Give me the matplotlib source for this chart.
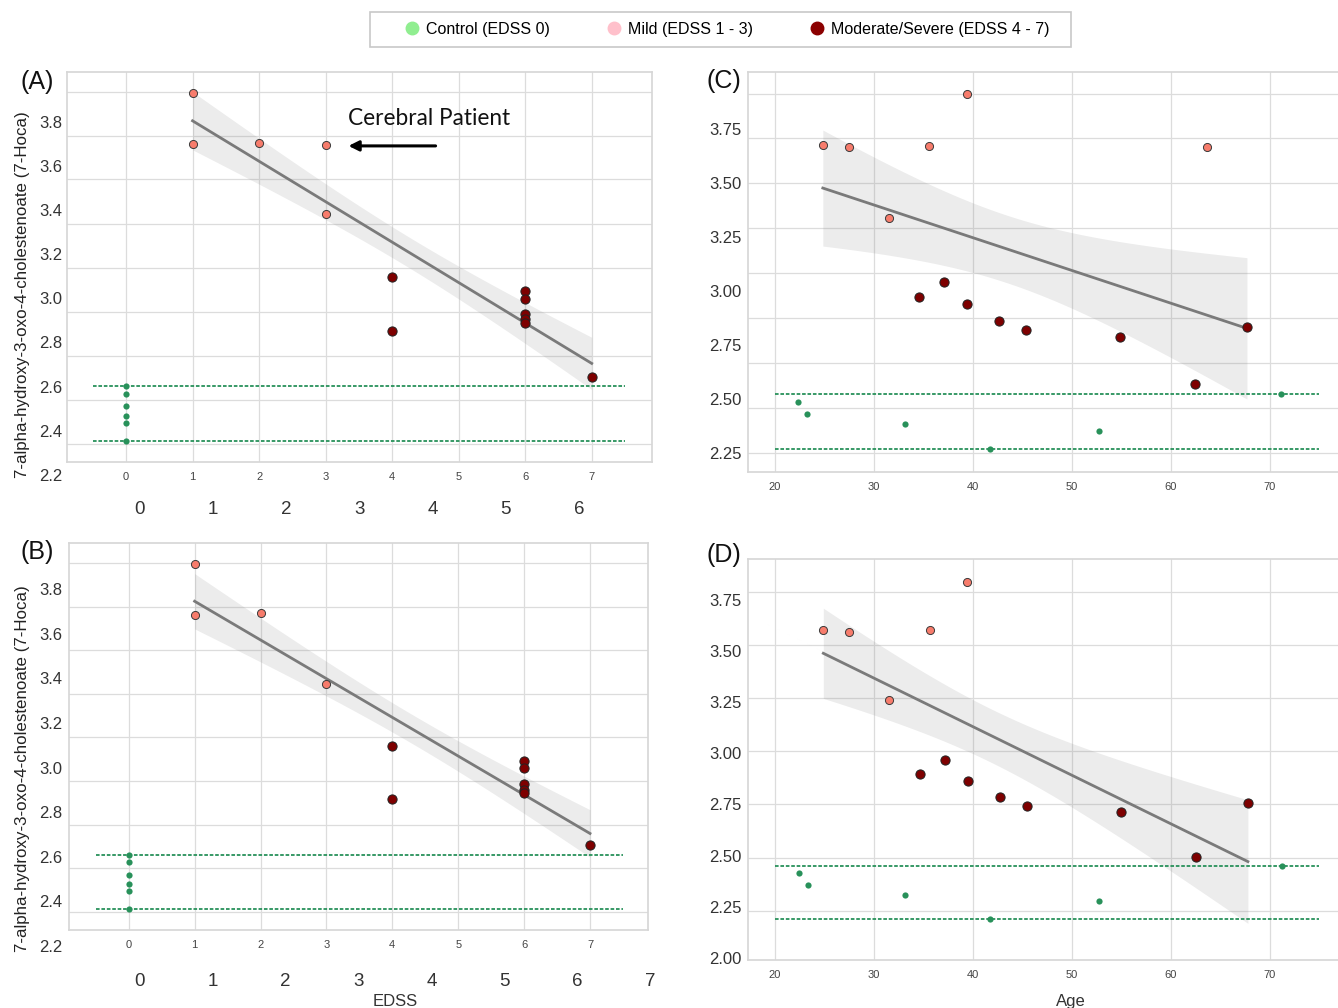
import numpy as np
import matplotlib.pyplot as plt
from matplotlib.lines import Line2D
from matplotlib.patches import Rectangle

plt.rcParams['font.family'] = ['Liberation Sans', 'DejaVu Sans']

# ---------------- data ----------------
# panel A : EDSS vs 7-Hoca, all patients
edss_ctrl_a = [0, 0, 0, 0, 0, 0]
hoca_ctrl_a = [2.603, 2.567, 2.512, 2.467, 2.437, 2.355]
edss_mild_a = [1, 1, 2, 3, 3]
hoca_mild_a = [3.931, 3.699, 3.705, 3.694, 3.382]
edss_mod_a = [4, 4, 6, 6, 6, 6, 6, 7]
hoca_mod_a = [3.098, 2.853, 3.033, 2.997, 2.928, 2.905, 2.887, 2.645]

# panel B : EDSS vs 7-Hoca, cerebral patient removed
edss_ctrl_b = [0, 0, 0, 0, 0, 0]
hoca_ctrl_b = [2.607, 2.575, 2.519, 2.476, 2.446, 2.365]
edss_mild_b = [1, 1, 2, 3]
hoca_mild_b = [3.914, 3.686, 3.692, 3.375]
edss_mod_b = [4, 4, 6, 6, 6, 6, 6, 7]
hoca_mod_b = [3.096, 2.857, 3.031, 2.996, 2.926, 2.899, 2.884, 2.652]

# panel C : Age vs 7-Hoca, all patients
age_ctrl_c = [22.3, 23.3, 33.2, 41.7, 52.8, 71.1]
hoca_ctrl_c = [2.488, 2.430, 2.384, 2.267, 2.352, 2.522]
age_mild_c = [24.85, 27.5, 31.5, 35.6, 39.4, 63.7]
hoca_mild_c = [3.676, 3.668, 3.338, 3.675, 3.914, 3.667]
age_mod_c = [34.6, 37.1, 39.4, 42.7, 45.4, 54.9, 62.5, 67.7]
hoca_mod_c = [2.975, 3.044, 2.939, 2.862, 2.818, 2.786, 2.570, 2.832]

# panel D : Age vs 7-Hoca, cerebral patient removed
age_ctrl_d = [22.4, 23.4, 33.2, 41.7, 52.8, 71.2]
hoca_ctrl_d = [2.414, 2.355, 2.306, 2.192, 2.277, 2.450]
age_mild_d = [24.9, 27.5, 31.5, 35.65, 39.4]
hoca_mild_d = [3.602, 3.594, 3.262, 3.600, 3.838]
age_mod_d = [34.7, 37.2, 39.5, 42.75, 45.5, 55.0, 62.55, 67.8]
hoca_mod_d = [2.899, 2.969, 2.863, 2.787, 2.743, 2.712, 2.495, 2.756]

legend_labels = ['Control (EDSS 0)', 'Mild (EDSS 1 - 3)', 'Moderate/Severe (EDSS 4 - 7)']
ylabel = '7-alpha-hydroxy-3-oxo-4-cholestenoate (7-Hoca)'

# ---------------- styling ----------------
c_ctrl = '#28915a'
c_mild = '#f77c6c'
c_mod = '#7e0000'
c_grid = '#dcdcdc'
ci_scale = 1.45   # width of the shaded band, in standard errors

W, H = 1338, 1008
fig = plt.figure(figsize=(W / 100, H / 100), dpi=100)


def rect(x0, y0, x1, y1):
    return [x0 / W, 1 - y1 / H, (x1 - x0) / W, (y1 - y0) / H]


def reg_band(x, y, xs):
    x = np.asarray(x, float)
    y = np.asarray(y, float)
    b, a = np.polyfit(x, y, 1)
    res = y - (a + b * x)
    s = np.sqrt(np.sum(res ** 2) / (len(x) - 2))
    se = s * np.sqrt(1 / len(x) + (xs - x.mean()) ** 2 / np.sum((x - x.mean()) ** 2))
    fit = a + b * xs
    return fit, fit - ci_scale * se, fit + ci_scale * se


def data_panel(r, xlim, ylim, xticks, ygrid, ctrl, mild, mod, span, xpad):
    ax = fig.add_axes(rect(*r))
    ax.set_xlim(*xlim)
    ax.set_ylim(*ylim)
    ax.set_xticks(xticks)
    ax.set_yticks(ygrid)
    ax.set_yticklabels([])
    ax.tick_params(axis='x', length=0, pad=xpad, labelsize=8, labelcolor='#444444')
    ax.tick_params(axis='y', length=0)
    ax.grid(True, color=c_grid, lw=0.9)
    ax.set_axisbelow(True)
    for sp in ax.spines.values():
        sp.set_color('#d6d6d6')
        sp.set_linewidth(1.2)
    # regression on patients only
    px = list(mild[0]) + list(mod[0])
    py = list(mild[1]) + list(mod[1])
    xs = np.linspace(min(px), max(px), 100)
    fit, lo, hi = reg_band(px, py, xs)
    ax.fill_between(xs, lo, hi, color='#808080', alpha=0.15, lw=0, zorder=2)
    ax.plot(xs, fit, color='#7a7a7a', lw=2, zorder=3)
    # control range lines
    ax.hlines([min(ctrl[1]), max(ctrl[1])], span[0], span[1], colors=c_ctrl,
              linestyles=(0, (2, 1)), lw=1.3, zorder=3)
    ax.scatter(ctrl[0], ctrl[1], s=20, color=c_ctrl, lw=0, zorder=4)
    ax.scatter(mild[0], mild[1], s=34, color=c_mild, edgecolor='#3a3a3a', lw=0.7, zorder=4)
    ax.scatter(mod[0], mod[1], s=44, color=c_mod, edgecolor='#222222', lw=0.7, zorder=4)
    return ax


def label_overlay(r, xlim, ylim, xticks, yticks, xpad, ypad):
    ov = fig.add_axes(rect(*r))
    ov.set_facecolor('none')
    for sp in ov.spines.values():
        sp.set_visible(False)
    ov.set_xlim(*xlim)
    ov.set_ylim(*ylim)
    ov.set_xticks(xticks)
    ov.set_yticks(yticks)
    ov.set_yticklabels([f'{v:.1f}' for v in yticks])
    ov.tick_params(axis='x', length=0, pad=xpad, labelsize=13.5, labelcolor='#333333')
    ov.tick_params(axis='y', length=0, pad=ypad, labelsize=12, labelcolor='#333333')
    return ov


# ---- panel A ----
ax_a = data_panel((67, 71.7, 652, 461.7), (-0.887, 7.906), (2.260, 4.026), range(8),
                  [2.340, 2.540, 2.739, 2.938, 3.137, 3.338, 3.539, 3.735, 3.933],
                  (edss_ctrl_a, hoca_ctrl_a), (edss_mild_a, hoca_mild_a),
                  (edss_mod_a, hoca_mod_a), (-0.5, 7.5), 7.2)
label_overlay((67, 71.7, 652, 490), (-0.989, 7.0), (2.132, 4.026), range(7),
              np.arange(2.2, 3.81, 0.2), 8.1, 3.4)
ax_a.text(3.33, 3.812, 'Cerebral Patient', family=['Lato', 'DejaVu Sans'],
          fontsize=16.3, va='center', ha='left', color='#111111')
ax_a.annotate('', xy=(3.344, 3.690), xytext=(4.653, 3.690),
              arrowprops=dict(arrowstyle='-|>,head_length=0.6,head_width=0.3',
                              color='black', lw=2.2, shrinkA=0, shrinkB=0))

# ---- panel B ----
data_panel((69.4, 542.7, 648, 930), (-0.900, 7.880), (2.271, 4.009), range(8),
           [2.350, 2.548, 2.744, 2.940, 3.135, 3.331, 3.527, 3.721, 3.916],
           (edss_ctrl_b, hoca_ctrl_b), (edss_mild_b, hoca_mild_b),
           (edss_mod_b, hoca_mod_b), (-0.5, 7.5), 7.2)
label_overlay((69.4, 542.7, 660, 960), (-0.963, 7.127), (2.136, 4.009), range(8),
              np.arange(2.2, 3.81, 0.2), 9.1, 5.0)

# ---- panel C ----
ax_c = data_panel((747.8, 71.7, 1338, 472.3), (17.27, 76.9), (2.160, 4.018),
                  range(20, 71, 10), np.linspace(2.25, 3.9167, 9),
                  (age_ctrl_c, hoca_ctrl_c), (age_mild_c, hoca_mild_c),
                  (age_mod_c, hoca_mod_c), (20, 75), 6.8)

# ---- panel D ----
ax_d = data_panel((747.8, 559.3, 1338, 960), (17.27, 76.9), (1.990, 3.947),
                  range(20, 71, 10), [2.230, 2.490, 2.751, 3.010, 3.268, 3.529, 3.789],
                  (age_ctrl_d, hoca_ctrl_d), (age_mild_d, hoca_mild_d),
                  (age_mod_d, hoca_mod_d), (20, 75), 7.2)

# y labels for the age panels
for ax, ticks in [(ax_c, np.arange(2.25, 3.76, 0.25)), (ax_d, np.arange(2.0, 3.76, 0.25))]:
    ax.spines['right'].set_visible(False)
    ov = ax.twinx()
    ov.yaxis.tick_left()
    ov.set_ylim(ax.get_ylim())
    ov.set_yticks(ticks)
    ov.set_yticklabels([f'{v:.2f}' for v in ticks])
    ov.tick_params(axis='y', length=0, pad=4.6, labelsize=12, labelcolor='#333333')
    for sp in ov.spines.values():
        sp.set_visible(False)

# panel letters, axis labels
for txt, x, y in [('(A)', 37, 82), ('(B)', 37, 552), ('(C)', 724, 81), ('(D)', 724, 555)]:
    fig.text(x / W, 1 - y / H, txt, fontsize=18, ha='center', va='center', color='#111111')
for yc in (295, 769):
    fig.text(23 / W, 1 - yc / H, ylabel, rotation=90, fontsize=12.2, ha='center',
             va='center', color='#222222')
fig.text(395.6 / W, 1 - 994 / H, 'EDSS', fontsize=12, ha='center', va='top', color='#333333')
fig.text(1070.7 / W, 1 - 994 / H, 'Age', fontsize=12, ha='center', va='top', color='#333333')

# legend, with its box drawn separately
fig.patches.append(Rectangle((370 / W, 1 - 47 / H), 701 / W, 35 / H, transform=fig.transFigure,
                             facecolor='white', edgecolor='#c8c8c8', lw=1.2))
handles = [Line2D([], [], marker='o', ls='', color=c, markersize=9)
           for c in ['#90ee90', '#ffc0cb', '#8b0000']]
fig.legend(handles, legend_labels, loc='center left', bbox_to_anchor=(396 / W, 1 - 29.5 / H),
           ncol=3, fontsize=11.5, frameon=False, handlelength=1.0, borderpad=0,
           handletextpad=0.375, columnspacing=3.5)

fig.savefig('out.png', dpi=100)
